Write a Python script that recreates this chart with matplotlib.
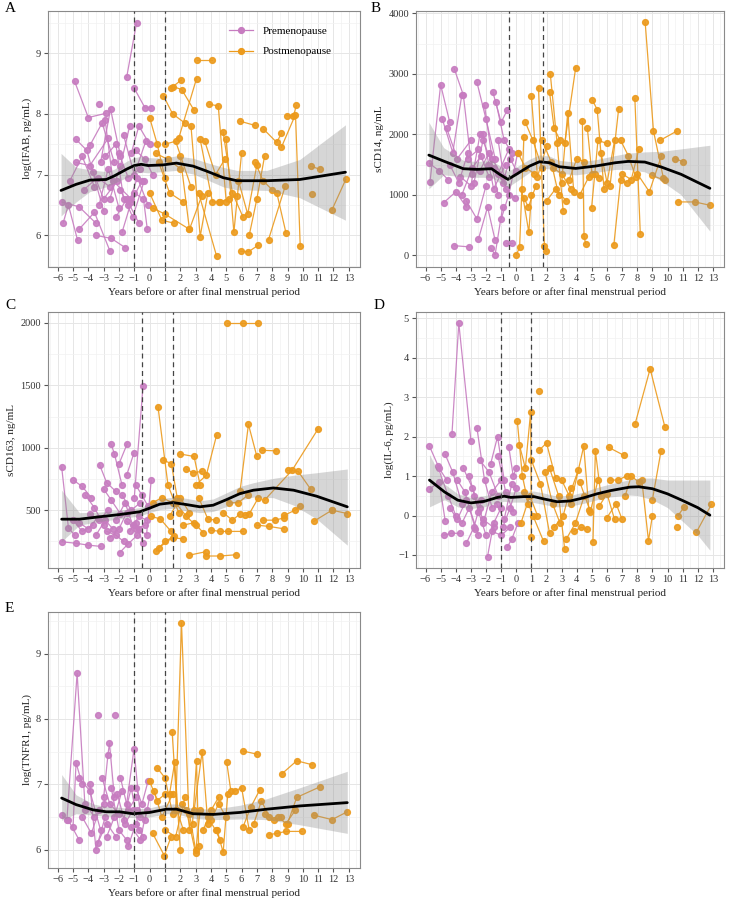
import matplotlib
matplotlib.use("Agg")
import matplotlib.pyplot as plt
from matplotlib.ticker import MultipleLocator

plt.rcParams['font.family'] = ['Liberation Serif', 'DejaVu Serif']
plt.rcParams['font.size'] = 7

PRE_COL = '#c77cc0'
POST_COL = '#ec9a1c'

XLABEL = 'Years before or after final menstrual period'
XTICKS = list(range(-6, 14))

# ---- panel A: log(IFAB) ----
A_pre = [
    [(-4.9, 8.54), (-4.0, 7.94), (-2.85, 8.01)],
    [(-3.3, 8.16)],
    [(-1.5, 8.6), (-0.85, 9.5)],
    [(-1.0, 8.42), (-0.3, 8.1), (0.1, 8.1)],
    [(-5.75, 6.55), (-4.6, 6.47), (-3.5, 6.2)],
    [(-5.65, 6.2), (-5.3, 6.5), (-4.7, 5.92)],
    [(-4.8, 7.58), (-4.1, 7.4), (-3.0, 6.4)],
    [(-4.6, 6.1), (-3.6, 6.38), (-2.6, 5.75)],
    [(-4.8, 7.2), (-3.9, 7.15), (-2.7, 7.6)],
    [(-3.9, 7.48), (-3.1, 7.85), (-2.3, 7.2)],
    [(-3.5, 6.0), (-2.5, 5.95), (-1.6, 5.8)],
    [(-3.2, 7.2), (-2.55, 8.08), (-1.9, 7.3)],
    [(-2.9, 7.9), (-2.4, 6.9), (-1.2, 6.6)],
    [(-2.6, 6.6), (-1.9, 7.15), (-1.3, 7.8)],
    [(-2.2, 6.3), (-1.5, 6.6), (-0.7, 6.2)],
    [(-2.0, 7.35), (-1.4, 6.95), (-0.6, 7.1)],
    [(-1.8, 6.05), (-1.2, 6.55), (-0.5, 6.9)],
    [(-1.7, 7.65), (-1.0, 7.0), (-0.25, 7.55)],
    [(-1.4, 6.5), (-0.8, 6.95), (-0.1, 6.5)],
    [(-1.2, 7.35), (-0.7, 7.8), (0.0, 7.5)],
    [(-3.7, 7.05), (-3.0, 6.6), (-2.1, 6.9)],
    [(-4.3, 6.75), (-3.4, 6.95), (-2.6, 6.8)],
    [(-5.2, 6.9), (-4.4, 7.3), (-3.6, 6.8)],
    [(-1.0, 6.7), (-0.4, 6.6), (-0.15, 6.1)],
    [(-2.9, 7.3), (-2.2, 7.5), (-1.7, 6.6)],
    [(-0.9, 7.4), (-0.3, 7.25), (0.2, 7.0)],
    [(-1.9, 6.75), (-1.1, 6.3), (-0.35, 6.9)],
    [(-3.3, 6.5), (-2.7, 7.1), (-2.0, 6.45)],
]
A_post = [
    [(0.0, 7.94), (0.5, 7.5), (1.0, 6.95)],
    [(0.9, 8.3), (1.5, 8.0), (2.3, 7.85)],
    [(1.42, 8.43), (2.08, 8.56)],
    [(3.06, 8.89), (4.09, 8.89)],
    [(1.53, 8.45), (2.1, 8.4), (2.9, 8.06)],
    [(1.9, 7.6), (3.06, 8.58)],
    [(3.9, 8.16), (4.48, 8.13), (5.0, 6.55)],
    [(5.9, 7.88), (6.88, 7.81)],
    [(7.43, 7.75), (8.3, 7.53), (8.6, 7.68)],
    [(8.95, 7.97), (9.39, 7.96), (9.57, 8.14)],
    [(8.6, 7.45), (9.52, 7.99), (9.83, 5.82)],
    [(11.9, 6.42), (12.8, 6.92)],
    [(10.6, 6.68)],
    [(10.5, 7.14), (11.1, 7.09)],
    [(3.2, 6.7), (4.37, 5.66)],
    [(5.94, 5.74), (6.45, 5.73), (7.1, 5.84)],
    [(7.76, 5.93), (8.85, 6.81)],
    [(8.3, 6.7), (8.9, 6.04)],
    [(0.0, 6.7), (0.8, 6.25), (1.6, 6.2)],
    [(0.2, 6.45), (1.0, 6.35), (2.6, 6.1)],
    [(0.6, 7.2), (1.3, 6.7), (2.2, 6.55)],
    [(1.0, 7.5), (1.7, 7.55), (2.7, 6.8)],
    [(2.0, 7.3), (2.6, 6.1), (3.4, 6.65)],
    [(2.7, 7.8), (3.3, 5.98), (3.8, 6.7)],
    [(3.3, 7.58), (4.1, 6.55), (4.6, 6.55)],
    [(4.8, 7.7), (5.4, 6.7), (6.1, 6.3)],
    [(5.0, 7.58), (5.5, 6.05), (6.0, 7.35)],
    [(5.8, 6.9), (6.4, 6.35), (7.0, 7.16)],
    [(6.5, 6.0), (7.0, 6.6), (7.5, 7.3)],
    [(0.4, 7.35), (1.2, 7.25), (2.0, 7.1)],
    [(3.6, 7.55), (4.3, 7.0), (4.9, 7.25)],
    [(6.9, 7.2), (7.4, 6.9), (8.0, 6.75)],
    [(4.5, 6.55), (5.2, 6.6), (5.7, 6.65)],
]
A_fit_x = [-5.78, -4.8, -3.9, -2.83, -2.3, -1.5, -1.0, -0.55, -0.1, 0.87, 1.75, 2.84, 3.7, 4.8, 5.7, 7.65, 9.8, 12.78]
A_fit_y = [6.74, 6.84, 6.91, 6.92, 6.98, 7.09, 7.15, 7.17, 7.15, 7.16, 7.19, 7.14, 7.06, 6.95, 6.90, 6.90, 6.92, 7.04]
A_lo = [6.32, 6.55, 6.72, 6.80, 6.86, 6.95, 7.02, 7.04, 7.03, 7.05, 7.07, 7.01, 6.92, 6.80, 6.75, 6.74, 6.62, 6.25]
A_hi = [7.35, 7.12, 7.08, 7.05, 7.09, 7.22, 7.28, 7.30, 7.28, 7.27, 7.31, 7.27, 7.20, 7.12, 7.07, 7.07, 7.25, 7.82]

# ---- panel B: sCD14 ----
B_pre = [
    [(-5.7, 1220), (-5.0, 2820), (-4.4, 2200)],
    [(-4.9, 2260), (-4.2, 1700), (-3.6, 2650)],
    [(-4.1, 3084), (-3.5, 2650), (-2.9, 1350)],
    [(-4.1, 160), (-3.1, 140)],
    [(-4.8, 870), (-4.0, 1050), (-3.3, 800)],
    [(-5.75, 1520), (-5.1, 1400), (-4.5, 1250)],
    [(-4.6, 2100), (-3.9, 1600), (-3.0, 1900)],
    [(-3.7, 1300), (-3.0, 1150), (-2.4, 2000)],
    [(-2.6, 2860), (-2.0, 2250), (-1.4, 1600)],
    [(-1.55, 2700), (-1.0, 2200), (-0.6, 2400)],
    [(-1.35, 2540), (-0.8, 1900), (-0.3, 1700)],
    [(-2.1, 2480), (-1.6, 1600), (-0.9, 1300)],
    [(-3.3, 900), (-2.6, 600), (-2.0, 1150)],
    [(-2.5, 270), (-1.9, 800), (-1.4, 250)],
    [(-1.7, 120), (-1.4, 10), (-0.9, 800)],
    [(-0.7, 210), (-0.3, 210)],
    [(-3.2, 1600), (-2.5, 1750), (-1.8, 1300)],
    [(-2.8, 1200), (-2.2, 1900), (-1.5, 1450)],
    [(-2.2, 2000), (-1.5, 1100), (-0.7, 1500)],
    [(-1.2, 1900), (-0.7, 1100), (-0.1, 950)],
    [(-0.9, 1200), (-0.4, 1600), (0.0, 1400)],
    [(-4.4, 1500), (-3.8, 1200), (-3.2, 1700)],
    [(-2.4, 1400), (-1.8, 1700), (-1.2, 1000)],
    [(-1.0, 600), (-0.5, 1000), (0.1, 1700)],
    [(-3.6, 1000), (-2.9, 1450), (-2.3, 1650)],
    [(-1.9, 1500), (-1.2, 1350), (-0.5, 1750)],
]
B_post = [
    [(0.0, 10), (0.22, 130), (0.5, 1950)],
    [(1.0, 2630), (1.4, 1300), (2.0, 1800)],
    [(1.47, 2765), (1.86, 160), (1.97, 66)],
    [(2.2, 2700), (2.5, 2100), (2.9, 1900)],
    [(2.25, 2996), (2.7, 1850), (3.1, 740)],
    [(3.2, 1850), (3.93, 3105)],
    [(3.0, 1200), (3.4, 2354), (3.8, 1050)],
    [(4.37, 2222), (4.48, 313), (4.6, 180)],
    [(5.03, 2568), (5.35, 2409), (5.8, 1100)],
    [(4.98, 790), (5.4, 1900), (6.0, 1850)],
    [(6.2, 1150), (6.77, 2425)],
    [(7.84, 2595), (8.2, 351)],
    [(8.52, 3857), (9.07, 2058), (9.72, 1284)],
    [(9.5, 1900), (10.6, 2052)],
    [(10.7, 883), (11.8, 883), (12.8, 828)],
    [(6.45, 170), (6.9, 1250), (7.3, 1200)],
    [(0.35, 1100), (0.83, 380), (1.0, 1000)],
    [(0.6, 2200), (1.1, 1900), (1.7, 1450)],
    [(0.1, 1700), (0.6, 1450), (1.2, 1350)],
    [(1.7, 1900), (2.3, 1550), (2.8, 1000)],
    [(2.0, 900), (2.6, 1100), (3.3, 900)],
    [(3.5, 1250), (4.0, 1600), (4.5, 1550)],
    [(4.2, 1000), (4.8, 1300), (5.2, 1350)],
    [(5.6, 1700), (6.0, 1200), (6.5, 1900)],
    [(6.9, 1900), (7.4, 1650), (7.9, 1300)],
    [(8.0, 1350), (8.8, 1050), (9.6, 1650)],
    [(9.0, 1320), (9.8, 1240)],
    [(10.5, 1600), (11.0, 1550)],
    [(0.5, 950), (0.8, 800), (1.3, 1150)],
    [(2.4, 1450), (3.0, 1350), (3.6, 1100)],
    [(7.0, 1350), (7.6, 1250), (8.1, 1750)],
    [(4.7, 2100), (5.0, 1350), (5.5, 1280)],
]
B_fit_x = [-5.78, -4.8, -3.5, -2.6, -1.63, -1.1, -0.55, 0.0, 0.88, 1.53, 2.2, 2.84, 3.93, 5.24, 6.55, 7.4, 8.5, 9.6, 10.9, 12.8]
B_fit_y = [1657, 1558, 1432, 1421, 1432, 1339, 1256, 1339, 1476, 1547, 1531, 1465, 1437, 1476, 1531, 1553, 1542, 1459, 1339, 1108]
B_lo = [1100, 1330, 1300, 1290, 1290, 1200, 1130, 1220, 1370, 1440, 1430, 1360, 1330, 1370, 1420, 1420, 1380, 1230, 1000, 400]
B_hi = [2200, 1780, 1570, 1550, 1570, 1480, 1390, 1460, 1590, 1660, 1640, 1570, 1540, 1580, 1650, 1690, 1710, 1720, 1760, 1820]

# ---- panel C: sCD163 ----
C_pre = [
    [(-5.74, 846), (-5.3, 360), (-4.9, 300)],
    [(-5.74, 247), (-4.8, 235), (-4.0, 220), (-3.2, 210)],
    [(-4.97, 740), (-4.4, 690), (-3.8, 600)],
    [(-2.53, 1033), (-2.3, 953), (-1.8, 700)],
    [(-2.0, 870), (-1.46, 1033)],
    [(-1.5, 780), (-1.02, 958)],
    [(-1.0, 600), (-0.43, 1494)],
    [(-3.27, 865), (-2.8, 720), (-2.2, 650)],
    [(-1.96, 159), (-1.4, 230), (-0.8, 300)],
    [(-0.9, 400), (-0.43, 234)],
    [(-4.6, 400), (-4.0, 350), (-3.4, 440)],
    [(-4.2, 620), (-3.6, 520), (-3.0, 380)],
    [(-3.5, 300), (-2.9, 420), (-2.4, 350)],
    [(-3.0, 670), (-2.5, 580), (-1.9, 470)],
    [(-2.6, 280), (-2.0, 350), (-1.5, 480)],
    [(-2.2, 420), (-1.6, 560), (-1.1, 380)],
    [(-1.8, 620), (-1.2, 500), (-0.6, 560)],
    [(-1.3, 330), (-0.7, 450), (-0.2, 420)],
    [(-0.9, 700), (-0.5, 620), (-0.1, 530)],
    [(-5.0, 420), (-4.4, 330), (-3.7, 380)],
    [(-3.9, 470), (-3.3, 420), (-2.7, 500)],
    [(-0.7, 350), (-0.2, 300), (0.1, 740)],
    [(-1.5, 410), (-0.9, 350), (-0.3, 380)],
    [(-2.8, 330), (-2.2, 300), (-1.7, 250)],
]
C_post = [
    [(5.03, 2000), (6.07, 2000), (7.06, 2000)],
    [(0.55, 1326), (1.2, 700), (1.9, 480)],
    [(0.9, 900), (1.42, 873), (1.8, 600)],
    [(2.0, 950), (2.9, 930), (3.3, 700)],
    [(3.0, 700), (3.7, 780), (4.37, 1100)],
    [(5.9, 650), (6.45, 1187), (7.0, 930)],
    [(7.32, 980), (8.26, 975)],
    [(7.5, 580), (9.3, 820), (11.0, 1152)],
    [(11.9, 500), (12.9, 473)],
    [(10.7, 410), (11.9, 500)],
    [(2.6, 140), (3.65, 167)],
    [(3.65, 133), (4.6, 133), (5.64, 143)],
    [(0.44, 173), (1.0, 250), (1.6, 290)],
    [(0.2, 560), (0.8, 600), (1.5, 560)],
    [(1.3, 450), (2.0, 600), (2.6, 480)],
    [(2.2, 380), (2.9, 400), (3.5, 320)],
    [(3.2, 600), (3.8, 430), (4.3, 420)],
    [(4.0, 340), (4.6, 330), (5.1, 330), (6.1, 330)],
    [(4.8, 480), (5.4, 420), (5.9, 470)],
    [(6.2, 460), (6.5, 470), (7.1, 600)],
    [(7.0, 380), (7.8, 370), (8.8, 350)],
    [(7.4, 420), (8.2, 420), (8.8, 440)],
    [(8.8, 460), (9.5, 500), (9.8, 530)],
    [(9.0, 820), (9.7, 810), (10.5, 670)],
    [(0.1, 450), (0.7, 430), (1.4, 330)],
    [(1.7, 560), (2.4, 450), (3.0, 380)],
    [(5.2, 560), (5.8, 560), (6.4, 620)],
    [(2.4, 830), (2.8, 800), (3.4, 810)],
    [(0.6, 200), (1.5, 280), (2.2, 270)],
]
C_fit_x = [-5.74, -4.58, -3.27, -1.96, -0.65, 0.0, 0.66, 1.53, 2.4, 3.28, 4.15, 5.03, 5.9, 6.77, 8.08, 9.4, 10.9, 12.9]
C_fit_y = [428, 428, 447, 465, 487, 516, 548, 561, 545, 527, 540, 585, 633, 660, 678, 660, 612, 527]
C_lo = [250, 380, 410, 430, 455, 480, 505, 515, 495, 480, 490, 530, 580, 605, 600, 540, 430, 220]
C_hi = [660, 480, 485, 500, 520, 550, 590, 605, 595, 575, 590, 640, 690, 720, 755, 780, 800, 830]

# ---- panel D: log(IL-6) ----
D_pre = [
    [(-5.74, 1.76), (-5.1, 1.2), (-4.6, 0.9)],
    [(-5.74, 0.67), (-5.1, 0.85), (-4.7, -0.13)],
    [(-4.25, 2.08), (-3.8, 4.88), (-3.0, 1.9)],
    [(-4.7, 1.55), (-4.2, 1.1), (-3.6, 0.3)],
    [(-4.8, -0.5), (-4.3, -0.45), (-3.7, -0.45)],
    [(-3.3, -0.7), (-2.8, -0.3), (-2.3, 0.4)],
    [(-2.6, 2.22), (-2.1, 0.9), (-1.6, 0.2)],
    [(-1.9, -1.04), (-1.5, -0.2), (-1.0, 0.2)],
    [(-1.7, 1.3), (-1.24, 2.0), (-0.8, 0.9)],
    [(-0.5, 1.75), (-0.2, 1.0), (0.0, 1.2)],
    [(-3.9, 0.9), (-3.4, 0.6), (-2.7, -0.35)],
    [(-3.1, 1.0), (-2.5, 0.1), (-2.0, -0.5)],
    [(-2.4, 1.4), (-1.8, 1.1), (-1.2, 0.5)],
    [(-1.6, -0.4), (-1.0, -0.5), (-0.4, -0.3)],
    [(-1.2, 1.5), (-0.7, 0.6), (-0.2, 0.1)],
    [(-0.9, -0.3), (-0.4, 0.2), (0.0, 0.7)],
    [(-4.4, 0.2), (-3.9, -0.1), (-3.3, 0.4)],
    [(-3.5, 1.2), (-2.9, 0.7), (-2.4, 0.2)],
    [(-2.2, -0.2), (-1.6, 0.6), (-1.0, 0.9)],
    [(-0.6, -0.8), (-0.3, -0.6), (0.1, -0.2)],
    [(-5.2, 1.25), (-4.5, 0.5), (-4.0, 0.0)],
    [(-2.8, 0.5), (-2.2, -0.1), (-1.5, -0.3)],
    [(-1.3, 0.3), (-0.8, -0.1), (-0.3, 0.8)],
    [(-3.6, -0.2), (-3.1, 0.2), (-2.5, -0.5)],
]
D_post = [
    [(0.07, 2.39), (0.4, 1.0), (0.8, 0.3)],
    [(0.2, 1.8), (0.6, 1.2), (0.95, 2.63), (1.0, -0.55)],
    [(1.5, 3.15)],
    [(7.86, 2.33), (8.85, 3.72), (9.83, 2.24)],
    [(1.5, 1.65), (2.0, 1.84), (2.6, 0.95)],
    [(3.6, 0.3), (4.46, 1.76), (4.8, 0.15)],
    [(5.07, -0.66), (5.23, 1.64), (5.6, 0.5)],
    [(6.1, 1.73), (7.1, 1.53)],
    [(9.0, 0.4), (9.57, 1.64)],
    [(8.3, 0.9), (8.74, -0.64), (9.0, 0.0)],
    [(11.9, -0.43), (12.9, 0.28)],
    [(10.7, 0.0), (11.1, 0.22)],
    [(10.6, -0.3)],
    [(0.3, -0.2), (0.9, 0.5), (1.4, 0.0)],
    [(1.0, 1.4), (1.6, 0.8), (2.2, -0.45)],
    [(1.9, 1.1), (2.4, 0.3), (2.9, -0.2)],
    [(2.2, 1.2), (2.8, 0.5), (3.2, -0.85)],
    [(2.5, -0.3), (3.1, 0.0), (3.6, 0.7)],
    [(3.0, 0.9), (3.5, 0.5), (4.1, 1.15)],
    [(3.8, -0.4), (4.3, -0.3), (4.7, -0.35)],
    [(4.2, 0.85), (4.9, 0.1), (5.4, 0.9)],
    [(5.5, 0.25), (6.0, 0.55), (6.5, -0.1)],
    [(6.2, 0.9), (6.7, 0.9), (7.3, 1.0)],
    [(6.0, -0.05), (6.6, 0.3), (7.0, -0.1)],
    [(7.2, 0.5), (7.6, 1.0), (8.1, 0.85)],
    [(0.5, 0.6), (1.1, 0.0), (1.8, -0.65)],
    [(3.3, -0.6), (3.9, -0.2), (4.5, 0.5)],
]
D_fit_x = [-5.74, -4.75, -3.87, -3.0, -2.12, -1.24, -0.8, -0.36, 0.52, 1.17, 1.83, 2.7, 3.58, 4.46, 5.33, 6.2, 7.5, 8.1, 9.0, 10.0, 11.0, 12.0, 12.8]
D_fit_y = [0.90, 0.60, 0.39, 0.32, 0.36, 0.46, 0.49, 0.46, 0.48, 0.48, 0.42, 0.35, 0.37, 0.45, 0.55, 0.63, 0.72, 0.73, 0.68, 0.55, 0.38, 0.20, 0.01]
D_lo = [0.22, 0.40, 0.22, 0.18, 0.22, 0.33, 0.36, 0.34, 0.34, 0.33, 0.28, 0.22, 0.24, 0.31, 0.40, 0.47, 0.52, 0.50, 0.40, 0.20, -0.15, -0.50, -0.88]
D_hi = [1.55, 0.80, 0.55, 0.46, 0.50, 0.60, 0.62, 0.60, 0.62, 0.62, 0.57, 0.49, 0.51, 0.60, 0.71, 0.80, 0.91, 0.95, 0.95, 0.90, 0.90, 0.90, 0.90]

# ---- panel E: log(TNFR1) ----
E_pre = [
    [(-5.4, 6.45), (-4.73, 8.7), (-4.2, 6.6)],
    [(-3.38, 8.06)],
    [(-2.29, 8.06)],
    [(-3.0, 6.8), (-2.72, 7.45), (-2.62, 7.63), (-2.3, 6.8)],
    [(-1.5, 6.7), (-1.02, 7.54), (-0.6, 6.5)],
    [(-5.0, 6.35), (-4.8, 7.33), (-4.4, 7.0)],
    [(-5.74, 6.53), (-5.3, 6.45), (-4.6, 6.15)],
    [(-4.6, 7.1), (-3.9, 6.9), (-3.2, 6.3)],
    [(-3.9, 7.0), (-3.5, 6.0), (-2.9, 6.5)],
    [(-3.4, 6.1), (-2.8, 6.4), (-2.2, 6.2)],
    [(-2.5, 6.95), (-2.0, 6.3), (-1.5, 6.15)],
    [(-1.9, 7.1), (-1.4, 6.6), (-0.9, 6.8)],
    [(-1.4, 6.05), (-0.9, 6.4), (-0.4, 6.2)],
    [(-0.9, 6.95), (-0.5, 6.7), (-0.1, 7.05)],
    [(-3.1, 7.1), (-2.6, 6.7), (-2.0, 6.55)],
    [(-4.2, 6.7), (-3.6, 6.5), (-3.0, 6.7)],
    [(-1.7, 6.45), (-1.2, 6.95), (-0.7, 6.3)],
    [(-2.1, 6.85), (-1.6, 6.4), (-1.1, 6.6)],
    [(-0.8, 6.6), (-0.3, 6.45), (0.0, 6.8)],
    [(-4.4, 6.5), (-3.8, 6.25), (-3.3, 6.6)],
    [(-2.8, 6.2), (-2.3, 6.5), (-1.8, 6.9)],
    [(-1.2, 6.35), (-0.6, 6.15), (-0.2, 6.6)],
]
E_post = [
    [(1.7, 6.6), (2.08, 9.47), (2.6, 6.3)],
    [(1.47, 7.8), (1.8, 6.6), (2.2, 6.3)],
    [(1.3, 6.85), (1.64, 7.34), (2.0, 6.0)],
    [(2.8, 6.4), (3.06, 7.36), (3.2, 6.05)],
    [(2.9, 6.6), (3.43, 7.5), (3.8, 6.4)],
    [(5.03, 7.34), (5.3, 6.9)],
    [(6.07, 7.51), (7.03, 7.46)],
    [(8.63, 7.16), (9.6, 7.36), (10.6, 7.3)],
    [(10.7, 6.53), (11.9, 6.46), (12.9, 6.58)],
    [(9.0, 6.4), (9.6, 6.8), (11.1, 6.96)],
    [(0.2, 6.25), (0.96, 5.91), (1.4, 6.2)],
    [(4.4, 6.3), (4.8, 5.96), (5.1, 6.85)],
    [(7.8, 6.23), (8.3, 6.25), (8.9, 6.28), (9.94, 6.28)],
    [(0.0, 7.05), (0.5, 6.75), (1.0, 6.85)],
    [(0.3, 6.9), (0.8, 6.5), (1.5, 6.85)],
    [(0.5, 7.25), (1.0, 7.1), (1.5, 6.55)],
    [(2.1, 6.7), (2.6, 6.55), (3.0, 6.0)],
    [(3.5, 6.3), (4.0, 6.6), (4.5, 6.8)],
    [(3.8, 6.5), (4.3, 6.3), (4.6, 6.15)],
    [(5.6, 6.9), (6.0, 6.95), (6.5, 6.3)],
    [(6.1, 6.35), (6.6, 6.65), (7.2, 6.92)],
    [(6.8, 6.4), (7.3, 6.75), (7.8, 6.5)],
    [(7.5, 6.55), (8.1, 6.45), (8.6, 6.5)],
    [(8.4, 6.5), (8.9, 6.4), (9.5, 6.6)],
    [(4.0, 6.45), (4.5, 6.7), (5.0, 6.5)],
    [(1.0, 6.3), (1.7, 6.2), (2.3, 6.8)],
    [(2.4, 6.6), (3.0, 5.95), (3.3, 6.6)],
]
E_fit_x = [-5.74, -4.8, -3.7, -2.83, -1.96, -1.08, 0.0, 1.1, 1.75, 2.84, 4.15, 5.9, 7.65, 9.83, 12.9]
E_fit_y = [6.79, 6.69, 6.61, 6.58, 6.58, 6.55, 6.57, 6.62, 6.62, 6.55, 6.54, 6.57, 6.62, 6.67, 6.72]
E_lo = [6.45, 6.55, 6.53, 6.51, 6.51, 6.49, 6.50, 6.55, 6.55, 6.48, 6.46, 6.47, 6.46, 6.38, 6.25]
E_hi = [7.15, 6.84, 6.70, 6.66, 6.65, 6.62, 6.64, 6.70, 6.70, 6.63, 6.62, 6.68, 6.78, 6.95, 7.20]


def draw_panel(ax, pre, post, fx, fy, lo, hi, vlines, ylim, yticks, ylabel, letter):
    for traj in pre:
        xs = [p[0] for p in traj]
        ys = [p[1] for p in traj]
        ax.plot(xs, ys, '-o', color=PRE_COL, lw=0.9, ms=4.2, alpha=0.9, zorder=2)
    for traj in post:
        xs = [p[0] for p in traj]
        ys = [p[1] for p in traj]
        ax.plot(xs, ys, '-o', color=POST_COL, lw=0.9, ms=4.2, alpha=0.9, zorder=2)
    ax.fill_between(fx, lo, hi, color='#8c8c8c', alpha=0.35, lw=0, zorder=3)
    ax.plot(fx, fy, color='black', lw=2, zorder=4, solid_capstyle='round')
    for v in vlines:
        ax.axvline(v, color='#444444', ls=(0, (4, 3)), lw=0.9, zorder=5)

    ax.set_xlim(-6.63, 13.73)
    ax.set_ylim(*ylim)
    ax.set_xticks(XTICKS)
    ax.set_xticklabels([str(t).replace('-', '\u2212') for t in XTICKS])
    ax.xaxis.set_minor_locator(MultipleLocator(0.5))
    ax.set_yticks(yticks)
    step = yticks[1] - yticks[0]
    ax.yaxis.set_minor_locator(MultipleLocator(step / 2))
    ax.grid(which='major', color='#e6e6e6', lw=0.7, zorder=0)
    ax.grid(which='minor', color='#f2f2f2', lw=0.5, zorder=0)
    ax.set_axisbelow(True)
    for s in ax.spines.values():
        s.set_color('#8a8a8a')
        s.set_linewidth(0.8)
    ax.tick_params(which='major', length=3, color='#555555', labelsize=7.5, labelcolor='#333333', pad=2)
    ax.tick_params(which='minor', length=0)
    ax.set_xlabel(XLABEL, fontsize=8, labelpad=3, color='#222222')
    ax.set_ylabel(ylabel, fontsize=8, labelpad=3, color='#222222')


fig = plt.figure(figsize=(7.32, 9.01), dpi=100)

col_l = [0.0656, 0.5683]
w = 0.4262
h = 0.2845
rows_b = [0.7037, 0.3696, 0.0366]

axA = fig.add_axes([col_l[0], rows_b[0], w, h])
axB = fig.add_axes([col_l[1], rows_b[0], 0.4207, h])
axC = fig.add_axes([col_l[0], rows_b[1], w, h])
axD = fig.add_axes([col_l[1], rows_b[1], 0.4207, h])
axE = fig.add_axes([col_l[0], rows_b[2], w, h])

draw_panel(axA, A_pre, A_post, A_fit_x, A_fit_y, A_lo, A_hi, [-1, 1],
           (5.48, 9.70), [6, 7, 8, 9], 'log(IFAB, pg/mL)', 'A')
draw_panel(axB, B_pre, B_post, B_fit_x, B_fit_y, B_lo, B_hi, [-0.5, 1.75],
           (-192, 4045), [0, 1000, 2000, 3000, 4000], 'sCD14, ng/mL', 'B')
draw_panel(axC, C_pre, C_post, C_fit_x, C_fit_y, C_lo, C_hi, [-0.5, 1.5],
           (37, 2090), [500, 1000, 1500, 2000], 'sCD163, ng/mL', 'C')
draw_panel(axD, D_pre, D_post, D_fit_x, D_fit_y, D_lo, D_hi, [-1, 1],
           (-1.33, 5.17), [-1, 0, 1, 2, 3, 4, 5], 'log(IL-6, pg/mL)', 'D')
draw_panel(axE, E_pre, E_post, E_fit_x, E_fit_y, E_lo, E_hi, [-1, 1],
           (5.72, 9.64), [6, 7, 8, 9], 'log(TNFR1, pg/mL)', 'E')

# legend inside panel A
h_pre, = axA.plot([], [], '-o', color=PRE_COL, lw=0.9, ms=4.2)
h_post, = axA.plot([], [], '-o', color=POST_COL, lw=0.9, ms=4.2)
axA.legend([h_pre, h_post], ['Premenopause', 'Postmenopause'], loc='upper right',
           bbox_to_anchor=(0.94, 0.98), frameon=False, fontsize=8, handlelength=2.2,
           labelspacing=1.0)

# panel letters
for lbl, (fx_, fy_) in zip('ABCDE', [(5, 8), (371, 8), (5, 306), (374, 306), (5, 608)]):
    fig.text(fx_ / 732, 1 - fy_ / 901, lbl, fontsize=11, ha='left', va='center')

fig.savefig('out.png', dpi=100)
